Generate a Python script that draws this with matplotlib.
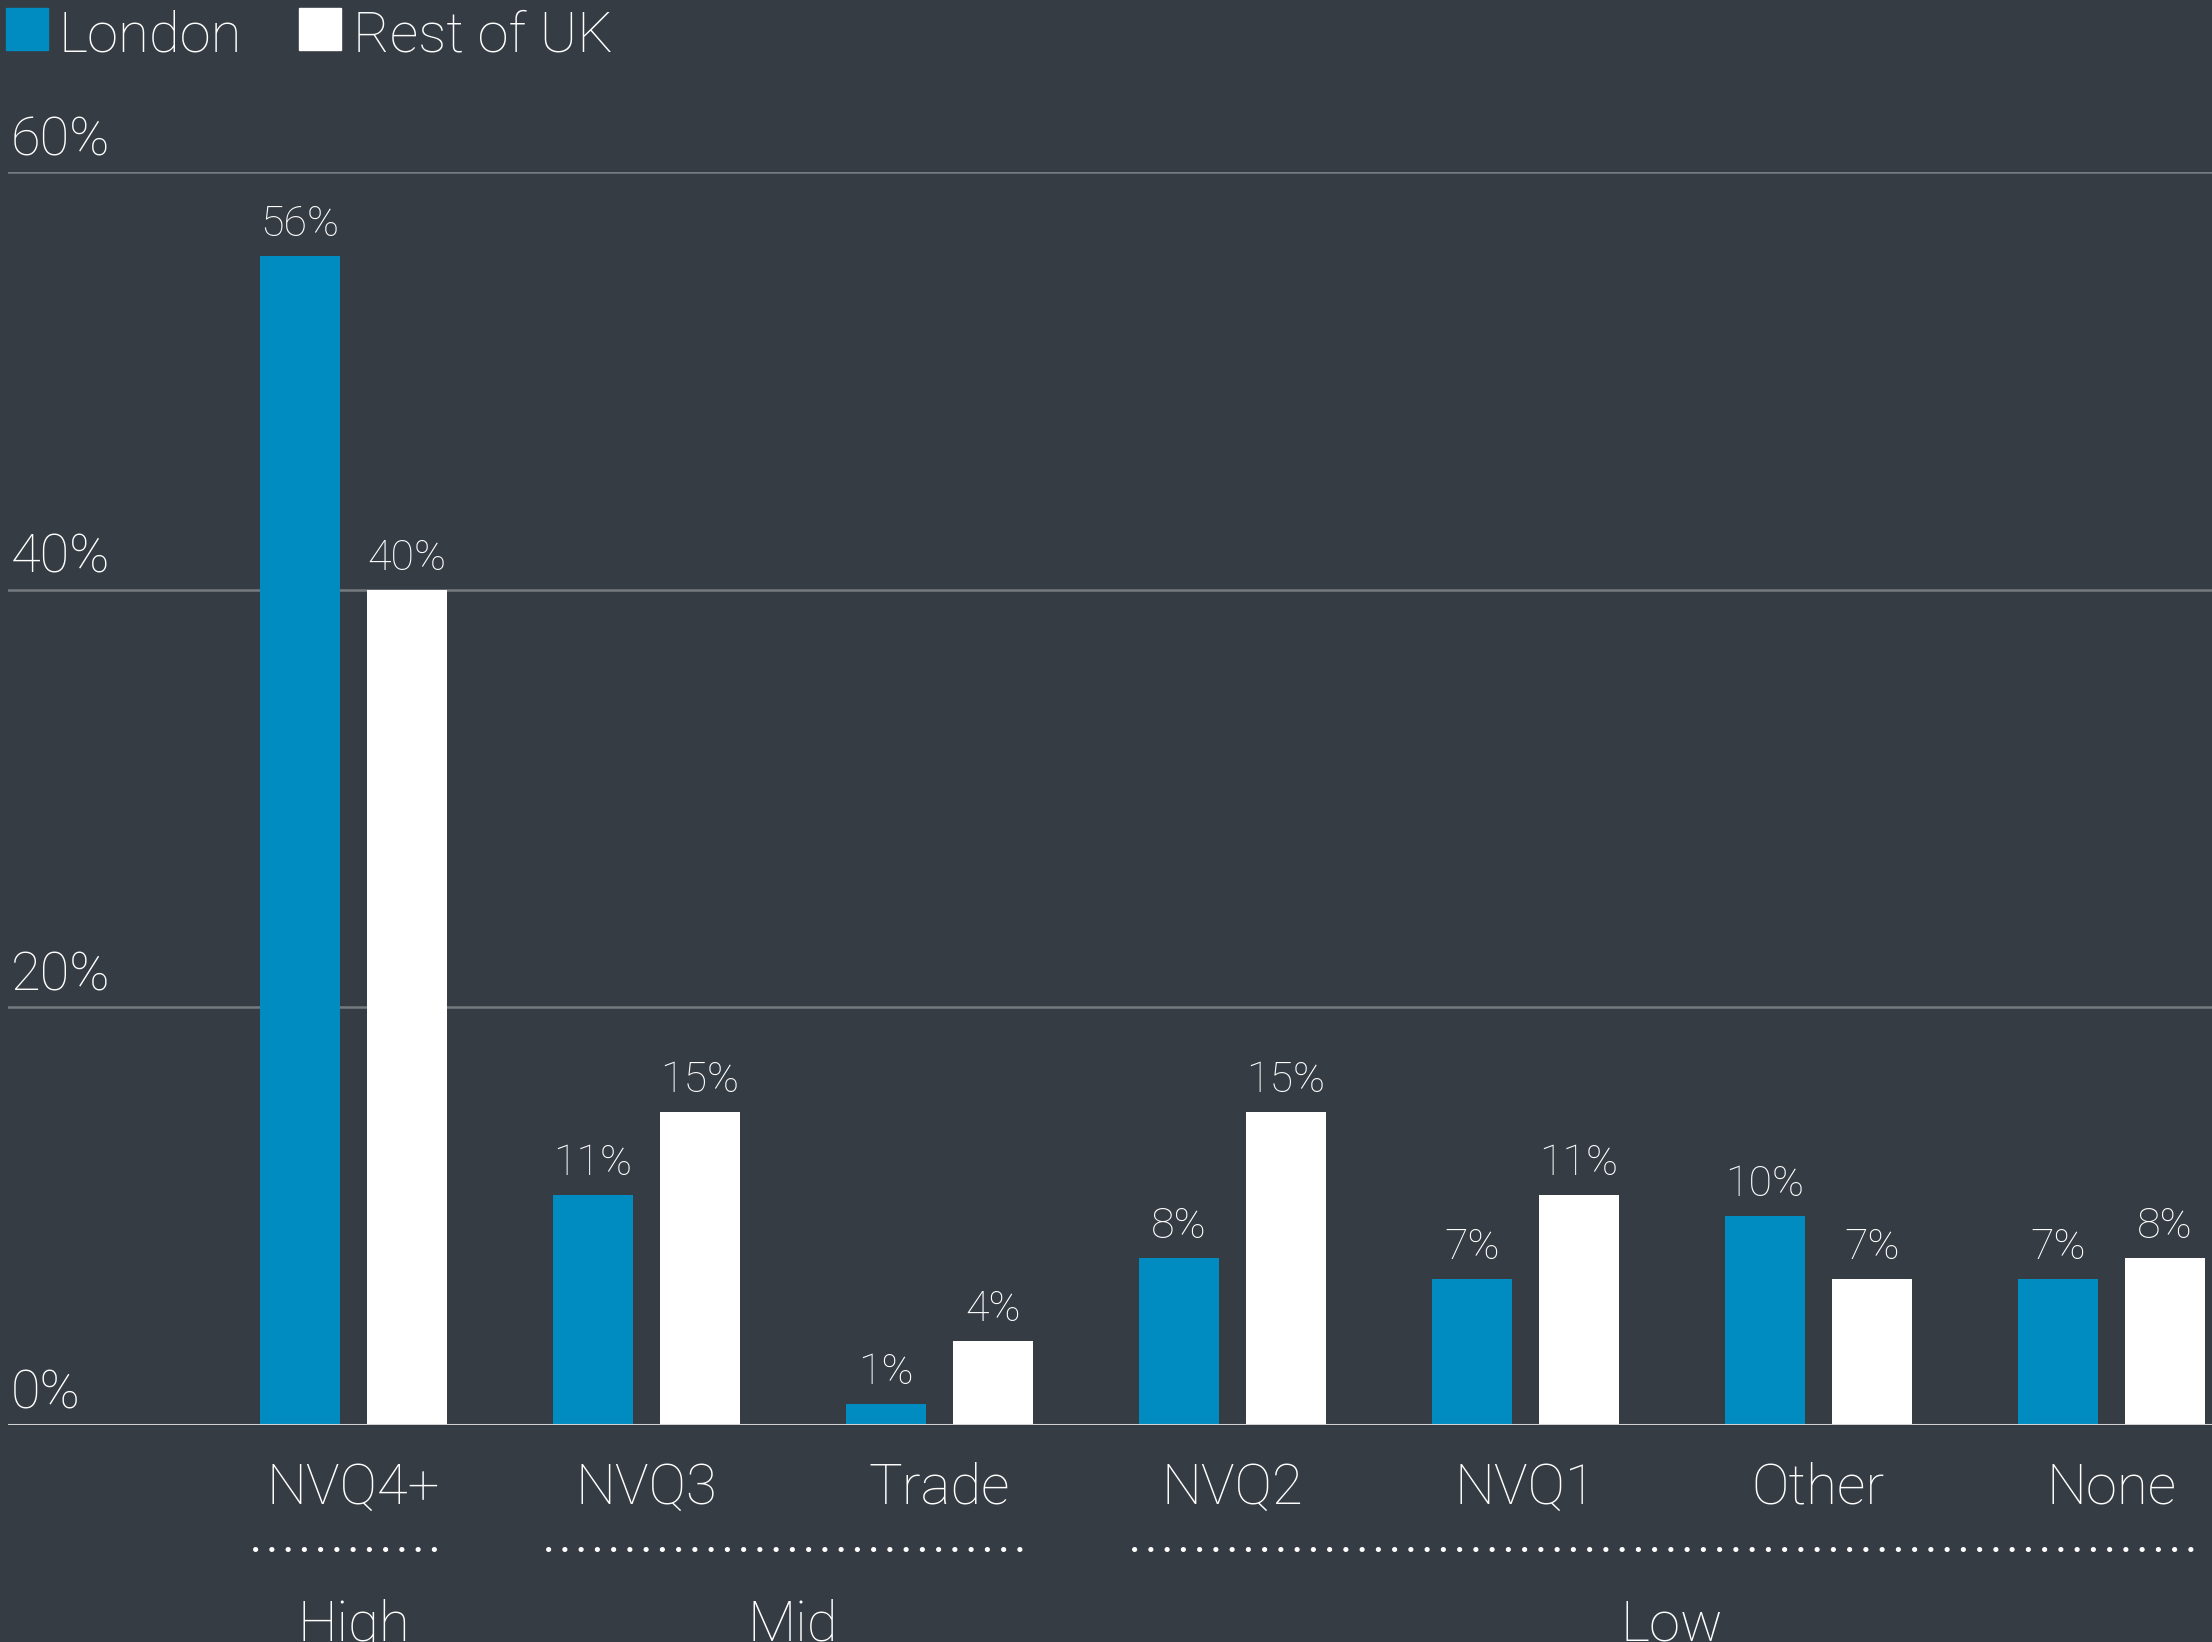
import matplotlib
matplotlib.use("Agg")
import matplotlib.pyplot as plt
from matplotlib.patches import Rectangle
import numpy as np

# Data
categories = ["NVQ4+", "NVQ3", "Trade", "NVQ2", "NVQ1", "Other", "None"]
london = [56, 11, 1, 8, 7, 10, 7]
rest_uk = [40, 15, 4, 15, 11, 7, 8]
groups = ["High", "Mid", "Low"]
group_members = [[0], [1, 2], [3, 4, 5, 6]]
yticks = [0, 20, 40, 60]

BG = "#363c43"
BLUE = "#008cc1"
WHITE = "#ffffff"
W, H = 2212, 1642

plt.rcParams["font.family"] = ["Roboto", "DejaVu Sans"]
plt.rcParams["font.weight"] = "light"

fig = plt.figure(figsize=(W / 100, H / 100), dpi=100, facecolor=BG)
# axes box in pixels: left 8, right edge, zero line at y=1425, 60% at y=172
ax = fig.add_axes([8 / W, (H - 1425) / H, (W - 8) / W, (1425 - 172) / H])
ax.set_facecolor(BG)

x = np.arange(len(categories))
bw = 0.274
off = 0.183
ax.bar(x - off, london, width=bw, color=BLUE, zorder=3)
ax.bar(x + off, rest_uk, width=bw, color=WHITE, zorder=3)

ax.set_xlim(-1.179, 6.343)
ax.set_ylim(0, 60)

# gridlines and tick labels
for v in yticks:
    if v == 0:
        ax.axhline(v, color="#d2d2d2", lw=2.2, zorder=4)
    else:
        ax.axhline(v, color="#757a7f", lw=1.8, zorder=1)
    ax.annotate(f"{v}%", xy=(0, v), xycoords=("axes fraction", "data"),
                xytext=(3, 17), textcoords="offset pixels",
                ha="left", va="baseline", color=WHITE, fontsize=39,
                fontweight="light", annotation_clip=False)

# value labels
for xi, a, b in zip(x, london, rest_uk):
    for xx, v in ((xi - off, a), (xi + off, b)):
        ax.annotate(f"{v}%", xy=(xx, v), xytext=(0, 20),
                    textcoords="offset pixels", ha="center", va="baseline",
                    color=WHITE, fontsize=31, fontweight="light",
                    annotation_clip=False)

for s in ax.spines.values():
    s.set_visible(False)
ax.set_xticks([])
ax.set_yticks([])

tr = ax.get_xaxis_transform()
# category labels
for xi, c in zip(x, categories):
    ax.text(xi, -0.063, c, transform=tr, ha="center", va="baseline",
            color=WHITE, fontsize=40.5, fontweight="light", clip_on=False)

# group dotted lines and labels
for g, members in zip(groups, group_members):
    x0 = members[0] - 0.335
    x1 = members[-1] + 0.30
    ax.plot([x0, x1], [-0.099, -0.099], transform=tr, color=WHITE,
            lw=3.6, linestyle=(0, (0.05, 3.2)), dash_capstyle="round",
            clip_on=False)
    ax.text(np.mean(members), -0.172, g, transform=tr, ha="center",
            va="baseline", color=WHITE, fontsize=40.5, fontweight="light",
            clip_on=False)

# legend drawn in figure pixels
def fx(px):
    return px / W

def fy(py):
    return 1 - py / H

for sq_x, txt_x, col, label in ((5.6, 59, BLUE, "London"),
                                (299, 353, WHITE, "Rest of UK")):
    fig.patches.append(Rectangle((fx(sq_x), fy(50)), 42 / W, 42 / H,
                                 transform=fig.transFigure, color=col))
    fig.text(fx(txt_x), fy(51), label, ha="left", va="baseline",
             color=WHITE, fontsize=40.5, fontweight="light")

fig.savefig("out.png", dpi=100, facecolor=BG)
